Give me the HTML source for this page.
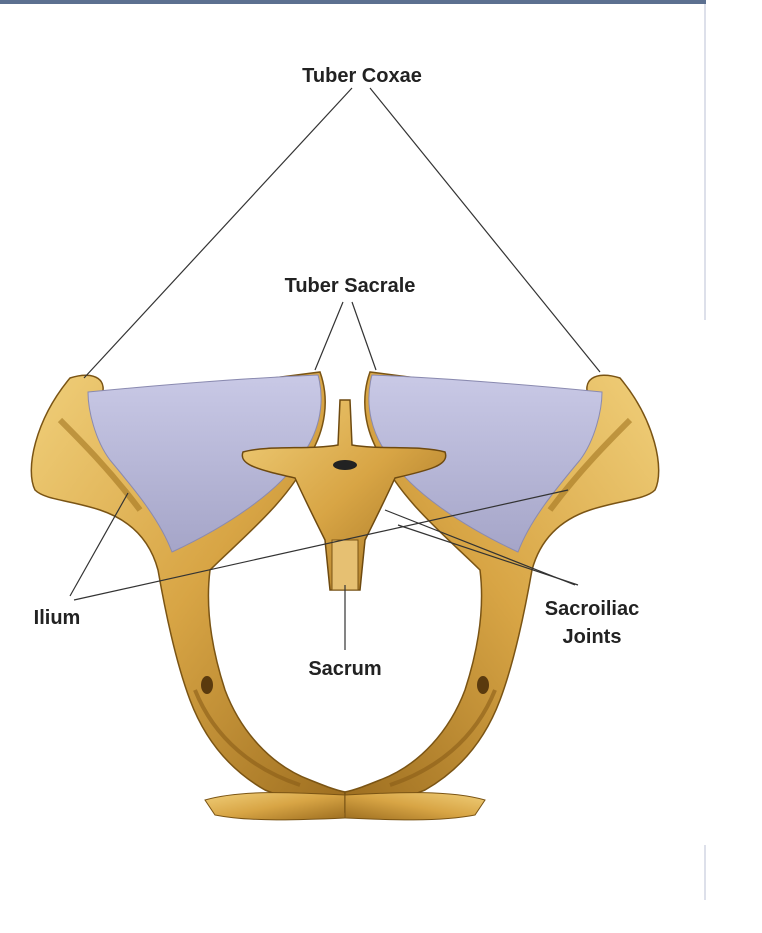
<!DOCTYPE html>
<html><head><style>
html,body{margin:0;padding:0;background:#fff;}
body{width:762px;height:933px;position:relative;overflow:hidden;font-family:"Liberation Sans",sans-serif;}
</style></head><body>
<svg width="762" height="933" viewBox="0 0 762 933" style="position:absolute;left:0;top:0">
<defs>
<linearGradient id="bone" x1="0" y1="0" x2="1" y2="1">
<stop offset="0" stop-color="#f0cf7a"/><stop offset="0.5" stop-color="#d8a545"/><stop offset="1" stop-color="#9c6d1f"/>
</linearGradient>
<linearGradient id="lig" x1="0" y1="0" x2="0" y2="1">
<stop offset="0" stop-color="#c9c9e6"/><stop offset="1" stop-color="#a5a5c8"/>
</linearGradient>
<g id="half">
<path d="M70,378 C95,370 110,380 100,400 C140,395 260,380 320,372 C330,400 325,430 310,455 C290,500 240,540 210,570 C205,610 212,650 225,690 C240,730 270,765 310,780 C325,786 335,790 345,792 L345,812 C320,812 290,800 265,790 C230,770 205,740 190,700 C175,660 165,610 158,570 C150,540 130,520 100,510 C70,500 45,500 35,490 C25,470 35,420 70,378 Z" fill="url(#bone)" stroke="#7a5414" stroke-width="1.5"/>
<path d="M88,392 C160,385 250,378 318,375 C326,405 318,435 300,458 C280,490 230,525 172,552 C160,520 135,490 110,460 C95,440 88,410 88,392 Z" fill="url(#lig)" stroke="#8a8ab0" stroke-width="1"/>
<path d="M60,420 C80,440 110,470 140,510" stroke="#a2741f" stroke-width="6" fill="none" opacity="0.6"/>
<path d="M195,690 C215,740 255,770 300,785" stroke="#8a5e18" stroke-width="4" fill="none" opacity="0.6"/>
<ellipse cx="207" cy="685" rx="6" ry="9" fill="#5a3a0e"/>
<path d="M205,800 C240,790 290,792 345,795 L345,818 C300,820 250,822 215,815 Z" fill="url(#bone)" stroke="#7a5414" stroke-width="1"/>
</g>
</defs>
<rect x="0" y="0" width="706" height="4" fill="#5c7090"/>
<rect x="704" y="4" width="2" height="316" fill="#dde0ea"/>
<rect x="704" y="845" width="2" height="55" fill="#dde0ea"/>
<use href="#half"/>
<use href="#half" transform="translate(690,0) scale(-1,1)"/>
<path d="M340,400 L350,400 L352,445 C380,450 420,445 445,452 C450,465 430,470 395,478 C385,500 375,520 365,540 L360,590 L330,590 L325,540 C315,520 305,500 295,478 C260,470 238,465 243,452 C268,445 310,450 338,445 Z" fill="url(#bone)" stroke="#6e4a10" stroke-width="1.5"/>
<ellipse cx="345" cy="465" rx="12" ry="5" fill="#222"/>
<rect x="332" y="540" width="26" height="50" fill="#e6c072" stroke="#7a5414"/>
<g stroke="#333" stroke-width="1.2" fill="none">
<line x1="352" y1="88" x2="84" y2="378"/>
<line x1="370" y1="88" x2="600" y2="372"/>
<line x1="343" y1="302" x2="315" y2="370"/>
<line x1="352" y1="302" x2="376" y2="370"/>
<line x1="70" y1="596" x2="128" y2="493"/>
<line x1="74" y1="600" x2="568" y2="490"/>
<line x1="345" y1="650" x2="345" y2="585"/>
<line x1="575" y1="585" x2="385" y2="510"/>
<line x1="578" y1="585" x2="398" y2="525"/>
</g>
<g font-family="Liberation Sans,sans-serif" font-weight="bold" font-size="20" fill="#222" text-anchor="middle">
<text x="362" y="82">Tuber Coxae</text>
<text x="350" y="292">Tuber Sacrale</text>
<text x="57" y="624">Ilium</text>
<text x="345" y="675">Sacrum</text>
<text x="592" y="615">Sacroiliac</text>
<text x="592" y="643">Joints</text>
</g>
</svg>
</body></html>
